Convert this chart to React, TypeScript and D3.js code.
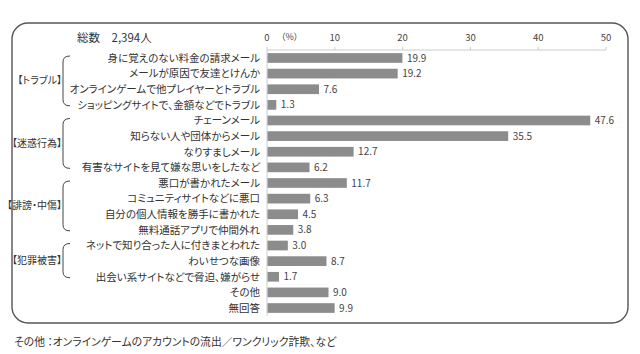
import React from "react";
import * as d3 from "d3";

// 項目ラベルと値（%）
const categories = [
  "身に覚えのない料金の請求メール",
  "メールが原因で友達とけんか",
  "オンラインゲームで他プレイヤーとトラブル",
  "ショッピングサイトで、金額などでトラブル",
  "チェーンメール",
  "知らない人や団体からメール",
  "なりすましメール",
  "有害なサイトを見て嫌な思いをしたなど",
  "悪口が書かれたメール",
  "コミュニティサイトなどに悪口",
  "自分の個人情報を勝手に書かれた",
  "無料通話アプリで仲間外れ",
  "ネットで知り合った人に付きまとわれた",
  "わいせつな画像",
  "出会い系サイトなどで脅迫、嫌がらせ",
  "その他",
  "無回答",
];
const values = [19.9, 19.2, 7.6, 1.3, 47.6, 35.5, 12.7, 6.2, 11.7, 6.3, 4.5, 3.8, 3.0, 8.7, 1.7, 9.0, 9.9];

const groupNames = ["【トラブル】", "【迷惑行為】", "【誹謗・中傷】", "【犯罪被害】"];
const groupFirst = [0, 4, 8, 12];
const groupLast = [3, 7, 11, 14];

const xTicks = [0, 10, 20, 30, 40, 50];

const totalLabel = "総数　2,394人";
const footnote = "その他 ：オンラインゲームのアカウントの流出／ワンクリック詐欺、など";

const W = 640;
const H = 354;
const font = "'Noto Sans CJK JP', 'Noto Sans', sans-serif";

export default function App() {
  const x = d3.scaleLinear().domain([0, 50]).range([267, 606]);
  const y = d3
    .scaleBand<number>()
    .domain(d3.range(categories.length))
    .range([50, 316])
    .paddingInner(0.38)
    .paddingOuter(0.2);
  const bw = y.bandwidth();
  const cy = (i: number) => (y(i) as number) + bw / 2;

  // 角の丸い「[」型の括弧
  const bracePath = (top: number, bottom: number) => {
    const xl = 63;
    const xr = 70;
    const r = 6;
    return `M${xr},${top} Q${xl},${top} ${xl},${top + r} L${xl},${bottom - r} Q${xl},${bottom} ${xr},${bottom}`;
  };

  return (
    <svg
      width={W}
      height={H}
      style={{ position: "absolute", left: 0, top: 0, background: "#fff", fontFeatureSettings: '"palt"' }}
      fontFamily={font}
    >
      <rect x={12} y={23} width={616} height={300} rx={16} ry={16} fill="none" stroke="#555" strokeWidth={1.4} />

      <text x={77} y={42} fontSize={11.5} fill="#333">{totalLabel}</text>

      {/* x axis */}
      <line x1={x(0)} x2={x(50)} y1={50} y2={50} stroke="#ccc" strokeWidth={1} />
      <line x1={x(0)} x2={x(0)} y1={50} y2={316} stroke="#ccc" strokeWidth={1} />
      {xTicks.map((t) => (
        <g key={t}>
          <line x1={x(t)} x2={x(t)} y1={47} y2={50} stroke="#ccc" />
          <text x={x(t)} y={41} fontSize={9.5} textAnchor="middle" fill="#444">{t}</text>
        </g>
      ))}
      <text x={281} y={40} fontSize={9} fill="#444">（%）</text>

      {/* bars */}
      {values.map((v, i) => (
        <g key={i}>
          <rect x={x(0) + 0.5} y={y(i)} width={x(v) - x(0)} height={bw} fill="#8c8c8c" />
          <text x={x(v) + 5} y={cy(i)} dy="0.36em" fontSize={10} fill="#444">{v.toFixed(1)}</text>
          <text x={260} y={cy(i)} dy="0.36em" fontSize={10.5} textAnchor="end" fill="#333">{categories[i]}</text>
        </g>
      ))}

      {/* groups */}
      {groupNames.map((g, k) => {
        const top = cy(groupFirst[k]) - 2;
        const bottom = cy(groupLast[k]) + 1;
        return (
          <g key={g}>
            <path d={bracePath(top, bottom)} fill="none" stroke="#444" strokeWidth={1} />
            <text x={62} y={(top + bottom) / 2} dy="0.35em" fontSize={10} textAnchor="end" fill="#333">{g}</text>
          </g>
        );
      })}

      <text x={14} y={346} fontSize={10.8} fill="#333">{footnote}</text>
    </svg>
  );
}
